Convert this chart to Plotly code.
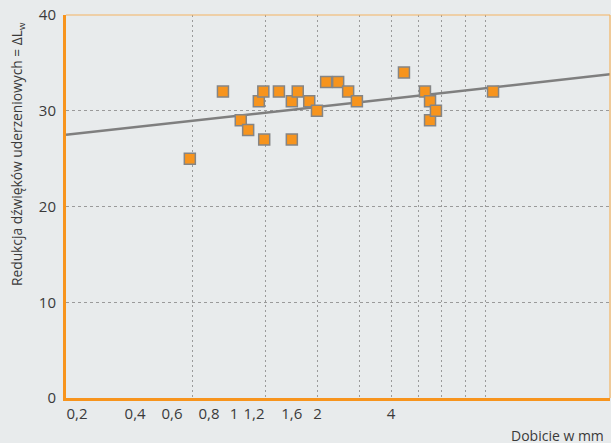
import numpy as np
import plotly.graph_objects as go

# ---- data ----
dobicie_mm = [0.60, 0.82, 0.97, 1.04, 1.15, 1.20, 1.21, 1.39, 1.57, 1.57, 1.66, 1.85,
              1.99, 2.17, 2.43, 2.67, 2.90, 4.52, 5.51, 5.78, 5.78, 6.11, 10.47]
redukcja_db = [25, 32, 29, 28, 31, 32, 27, 32, 31, 27, 32, 31,
               30, 33, 33, 32, 31, 34, 32, 31, 29, 30, 32]

# trend line: dLw = a + b * log2(x)
trend_a = 29.55
trend_b = 0.854

x_tick_labels = ["0,2", "0,4", "0,6", "0,8", "1", "1,2", "1,6", "2", "4"]
x_tick_at = [0.207, 0.358, 0.507, 0.719, 0.910, 1.099, 1.569, 2.0, 4.0]
x_grid_at = [0.616, 1.227, 2.0, 2.96, 4.0, 5.16, 6.45, 8.06, 9.73]
y_ticks = [0, 10, 20, 30, 40]
y_grid = [10, 20, 30]

x_range_log = [-0.729, 1.499]

# ---- styles ----
BG = "#e8ebec"
ORANGE = "#f7941d"
ORANGE_LIGHT = "#f3b462"
GRID = "#9a9a9a"
TEXT = "#3a3a3a"
FONT = "Open Sans"

trend_x = np.geomspace(10 ** x_range_log[0], 10 ** x_range_log[1], 50)
trend_y = trend_a + trend_b * np.log2(trend_x)

fig = go.Figure()
fig.add_trace(go.Scatter(
    x=trend_x, y=trend_y, mode="lines",
    line=dict(color="#7f7f7f", width=2.5),
    hoverinfo="skip", showlegend=False))
fig.add_trace(go.Scatter(
    x=dobicie_mm, y=redukcja_db, mode="markers",
    marker=dict(symbol="square", size=11, color=ORANGE,
                line=dict(color="#858585", width=1.5)),
    showlegend=False))

fig.update_layout(
    width=611, height=443,
    margin=dict(l=66, r=1, t=15, b=45),
    paper_bgcolor=BG, plot_bgcolor=BG,
    font=dict(family=FONT, size=15, color=TEXT),
    xaxis=dict(
        type="log", range=x_range_log,
        tickmode="array", tickvals=x_tick_at, ticktext=x_tick_labels,
        showgrid=False, zeroline=False,
        showline=True, linecolor=ORANGE, linewidth=3,
        ticks="", tickfont=dict(size=15, color=TEXT),
        minor=dict(tickmode="array", tickvals=x_grid_at, showgrid=True,
                   gridcolor=GRID, griddash="2px,3px", gridwidth=1, ticks=""),
    ),
    yaxis=dict(
        range=[0, 40],
        tickmode="array", tickvals=y_ticks,
        showgrid=False, zeroline=False,
        showline=True, linecolor=ORANGE, linewidth=3,
        ticks="", ticklabelstandoff=4,
        tickfont=dict(size=15, color=TEXT),
        minor=dict(tickmode="array", tickvals=y_grid, showgrid=True,
                   gridcolor=GRID, griddash="3px,3px", gridwidth=1, ticks=""),
    ),
    shapes=[
        dict(type="line", xref="paper", yref="paper", x0=0, x1=1, y0=1, y1=1,
             line=dict(color=ORANGE_LIGHT, width=1.2)),
        dict(type="line", xref="paper", yref="paper", x0=1, x1=1, y0=0, y1=1,
             line=dict(color=ORANGE_LIGHT, width=1.2)),
    ],
    annotations=[
        dict(text="Redukcja dźwięków uderzeniowych = ΔL<sub>w</sub>",
             xref="paper", yref="paper", x=-0.090, y=0.637,
             xanchor="center", yanchor="middle", textangle=-90,
             showarrow=False, font=dict(size=13.8, color=TEXT)),
        dict(text="Dobicie w mm", xref="paper", yref="paper",
             x=0.993, y=-0.097, xanchor="right", yanchor="middle",
             showarrow=False, font=dict(size=14, color=TEXT)),
    ],
)

fig.write_html(
    "out.html",
    config={"displayModeBar": False},
    post_script="document.body.style.margin='0';document.body.style.background='%s';" % BG,
)
